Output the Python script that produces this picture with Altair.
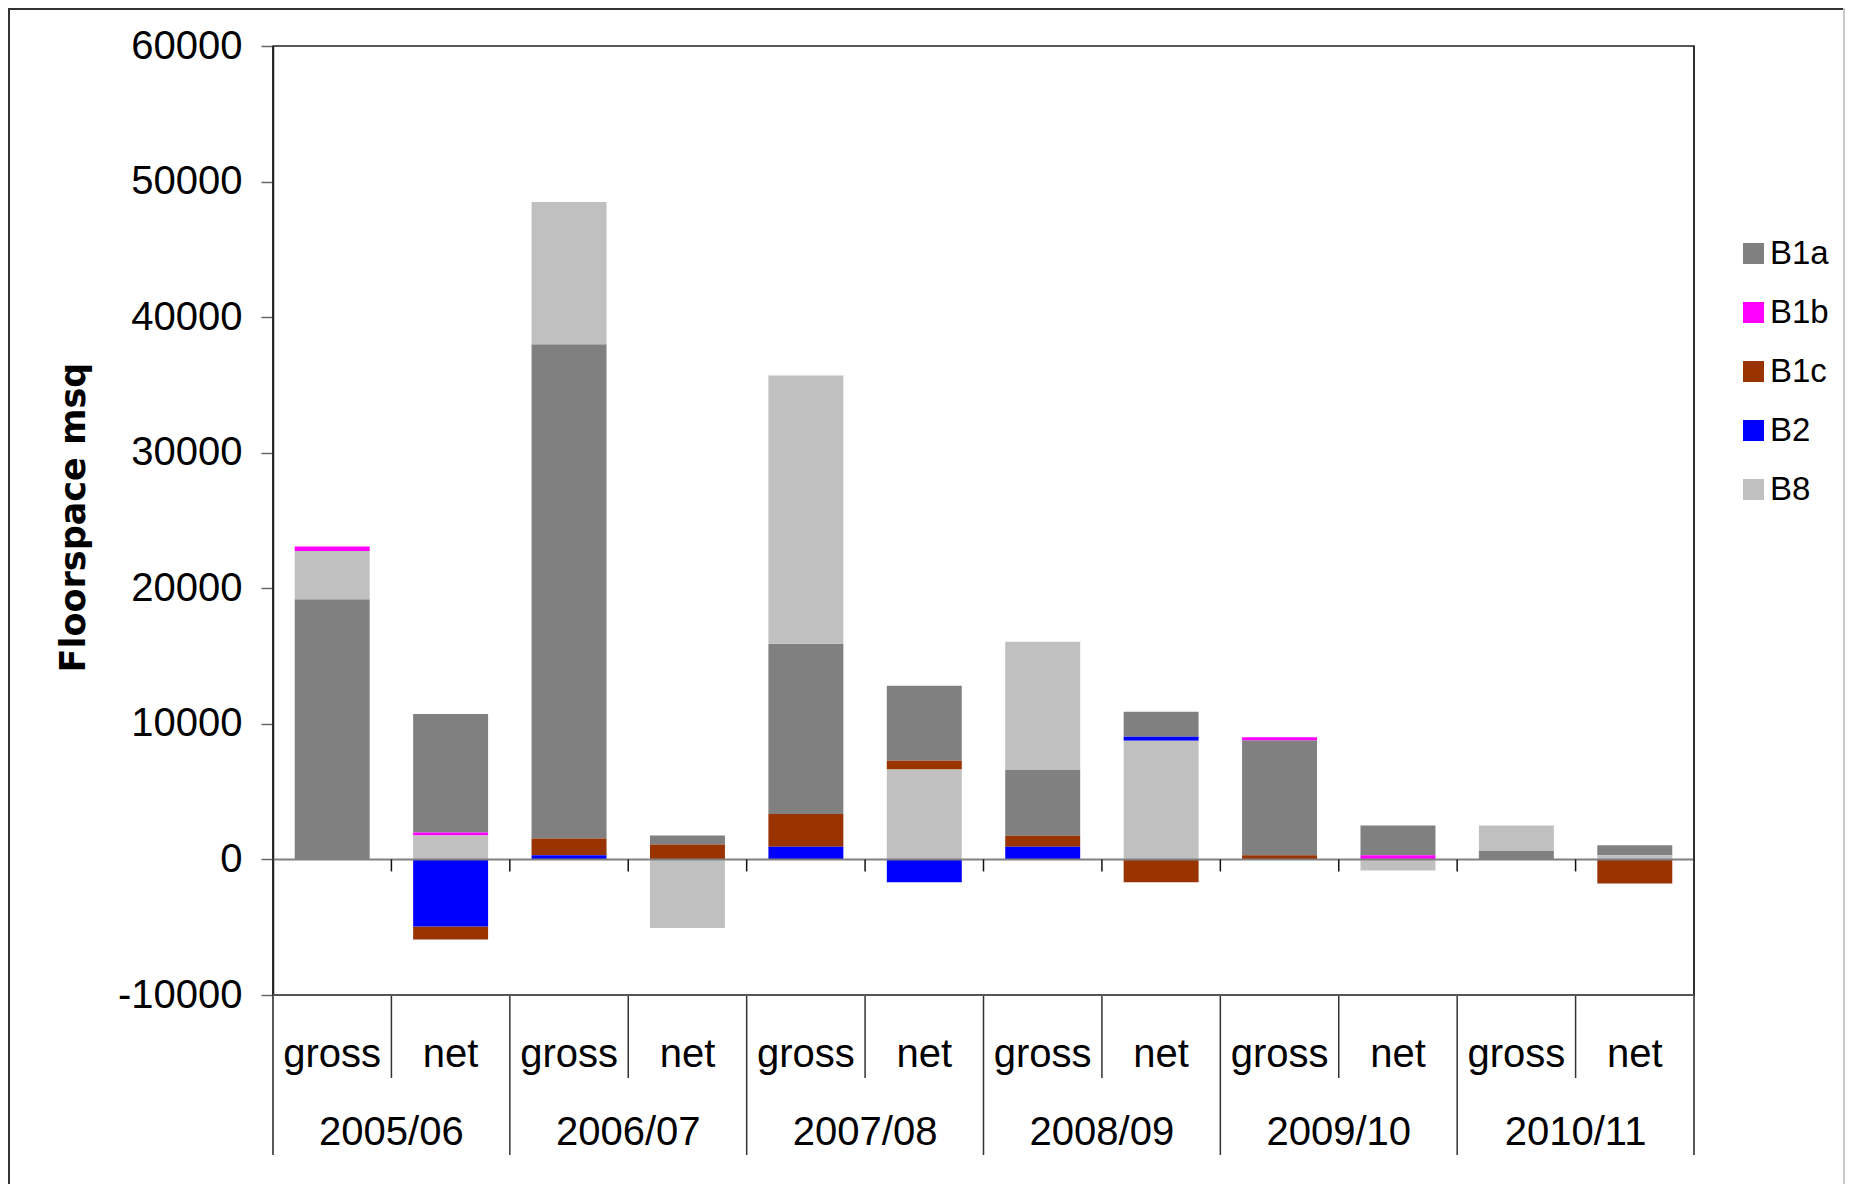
import altair as alt
import pandas as pd

years = ["2005/06", "2006/07", "2007/08", "2008/09", "2009/10", "2010/11"]
measures = ["gross", "net"]
series = ["B1a", "B1b", "B1c", "B2", "B8"]
colors = ["#808080", "#FF00FF", "#993300", "#0000FF", "#C0C0C0"]

# one value per bar: 2005/06 gross, 2005/06 net, 2006/07 gross, ...
b1a = [19200, 8740, 36450, 660, 12550, 5550, 4880, 1840, 8490, 2210, 660, 740]
b1b = [330, 220, 0, 0, 0, 0, 0, 0, 220, 300, 0, 0]
b1c = [0, -950, 1250, 1100, 2420, 640, 820, -1690, 300, 0, 0, -1770]
b2 = [0, -4950, 300, 0, 930, -1690, 930, 290, 0, 0, 0, 0]
b8 = [3550, 1760, 10500, -5060, 19800, 6630, 9430, 8760, 0, -810, 1850, 300]

# stacking order (from the zero line outwards)
gross_stack = ["B2", "B1c", "B1a", "B8", "B1b"]
net_stack = ["B8", "B2", "B1b", "B1c", "B1a"]

y_ticks = [-10000, 0, 10000, 20000, 30000, 40000, 50000, 60000]

values = {"B1a": b1a, "B1b": b1b, "B1c": b1c, "B2": b2, "B8": b8}
keys = [f"{y} {m}" for y in years for m in measures]
rows = []
for i, k in enumerate(keys):
    order = gross_stack if i % 2 == 0 else net_stack
    for s in series:
        v = values[s][i]
        if v != 0:
            rows.append({"key": k, "series": s, "value": v, "ord": order.index(s)})
df = pd.DataFrame(rows)

W, H = 1421, 949
FONT = "Liberation Sans"
FS = 40

xscale = alt.Scale(domain=keys, paddingInner=0, paddingOuter=0)
yscale = alt.Scale(domain=[-10000, 60000], nice=False, zero=False)

bars = alt.Chart(df).mark_bar(width={"band": 0.633}).encode(
    x=alt.X("key:N", scale=xscale, sort=keys, axis=None),
    y=alt.Y("value:Q", stack="zero", scale=yscale,
            axis=alt.Axis(values=y_ticks, labelExpr="'' + datum.value",
                          title="Floorspace msq", titleFont="DejaVu Sans",
                          titleFontSize=35, titleFontWeight="bold",
                          titleColor="black", titleX=-189, titleY=471,
                          titleAlign="center", titleBaseline="alphabetic",
                          titleAngle=270,
                          labelFont=FONT, labelFontSize=FS, labelColor="black",
                          labelPadding=19, tickSize=12, tickColor="#666",
                          tickWidth=1.5, domainColor="#222", domainWidth=1.5,
                          grid=False)),
    color=alt.Color("series:N", scale=alt.Scale(domain=series, range=colors),
                    legend=alt.Legend(orient="none", legendX=1464, legendY=191,
                                      title=None, symbolType="square",
                                      symbolSize=441, symbolStrokeWidth=0,
                                      symbolOpacity=1, labelFontSize=33,
                                      labelFont=FONT, labelColor="black",
                                      rowPadding=25, labelOffset=0, padding=0)),
    order=alt.Order("ord:Q", sort="ascending"),
)

one = pd.DataFrame({"a": [0]})

zero_line = alt.Chart(one).mark_rule(color="#808080", strokeWidth=2).encode(
    y=alt.Y(datum=0, scale=yscale), x=alt.value(0), x2=alt.value(W))

tick_df = pd.DataFrame({"key": keys[1:]})
zero_ticks = alt.Chart(tick_df).mark_rule(color="#111", strokeWidth=1.5, y2Offset=12).encode(
    x=alt.X("key:N", scale=xscale, bandPosition=0, axis=None),
    y=alt.Y(datum=0, scale=yscale), y2=alt.Y2(datum=0))

outer_df = pd.DataFrame({"key": [f"{y} gross" for y in years[1:]]})
inner_df = pd.DataFrame({"key": [f"{y} net" for y in years]})

sep_outer = alt.Chart(outer_df).mark_rule(color="#333", strokeWidth=1.5).encode(
    x=alt.X("key:N", scale=xscale, bandPosition=0, axis=None),
    y=alt.value(H), y2=alt.value(H + 160))
sep_inner = alt.Chart(inner_df).mark_rule(color="#333", strokeWidth=1.5).encode(
    x=alt.X("key:N", scale=xscale, bandPosition=0, axis=None),
    y=alt.value(H), y2=alt.value(H + 83))
ext_left = alt.Chart(one).mark_rule(color="#222", strokeWidth=1.5).encode(
    x=alt.value(0), y=alt.value(0), y2=alt.value(H + 160))
ext_right = alt.Chart(one).mark_rule(color="#222", strokeWidth=1.5).encode(
    x=alt.value(W), y=alt.value(0), y2=alt.value(H + 160))
bottom_line = alt.Chart(one).mark_rule(color="#555", strokeWidth=2).encode(
    y=alt.value(H), x=alt.value(0), x2=alt.value(W))

mdf = pd.DataFrame({"key": keys, "measure": [k.split(" ")[1] for k in keys]})
measure_text = alt.Chart(mdf).mark_text(font=FONT, fontSize=FS, baseline="alphabetic",
                                        align="center", color="black").encode(
    x=alt.X("key:N", scale=xscale, axis=None),
    y=alt.value(H + 72), text="measure:N")

ydf = pd.DataFrame({"key": [f"{y} gross" for y in years], "year": years})
year_text = alt.Chart(ydf).mark_text(font=FONT, fontSize=FS, baseline="alphabetic",
                                     align="center", color="black").encode(
    x=alt.X("key:N", scale=xscale, bandPosition=1, axis=None),
    y=alt.value(1099), text="year:N")

border_left = alt.Chart(one).mark_rule(color="#333", strokeWidth=2).encode(
    x=alt.value(-264), y=alt.value(-38), y2=alt.value(1138))
border_top = alt.Chart(one).mark_rule(color="#333", strokeWidth=2).encode(
    y=alt.value(-37), x=alt.value(-264), x2=alt.value(1572))
border_right = alt.Chart(one).mark_rule(color="#c8c8c8", strokeWidth=2).encode(
    x=alt.value(1571), y=alt.value(-38), y2=alt.value(1138))

chart = alt.layer(
    bars, zero_line, zero_ticks, sep_outer, sep_inner, ext_left, ext_right,
    bottom_line, measure_text, year_text, border_left, border_top, border_right
).properties(
    width=W, height=H,
    autosize=alt.AutoSizeParams(type="none"),
    padding={"left": 265, "top": 38, "right": 152, "bottom": 189},
    background="white",
).configure_view(stroke="#222", strokeWidth=1.5)

chart.save("out.html", embed_options={"renderer": "svg", "actions": False})
